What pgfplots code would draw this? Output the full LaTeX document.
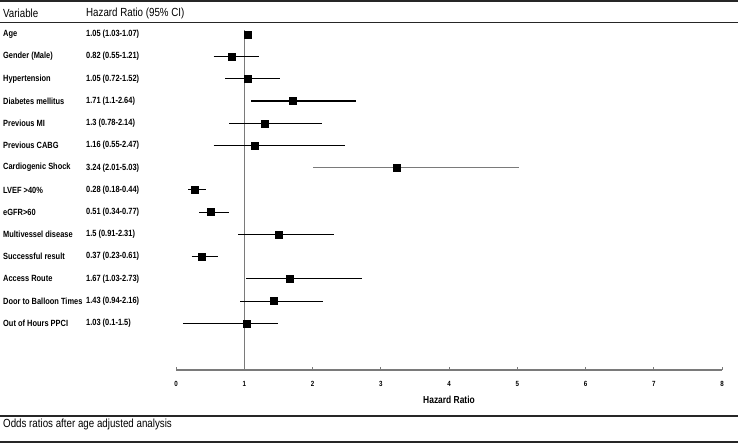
\documentclass[border=0pt]{standalone}
\usepackage{fontspec}
\setmainfont{Liberation Sans}[FakeStretch=0.83]
\usepackage{pgfplots}
\usepackage{pgfplotstable}
\pgfplotsset{compat=1.18}
\definecolor{refgray}{HTML}{7A7A7A}
\pgfplotstableread{
row hr
1 1.05
2 0.82
3 1.05
4 1.71
5 1.3
6 1.16
7 3.24
8 0.28
9 0.51
10 1.5
11 0.37
12 1.67
13 1.43
14 1.03
}\hrdata
\begin{document}
\begin{tikzpicture}
\useasboundingbox (0,0) rectangle (738bp,-443bp);
\begin{axis}[
  at={(176bp,-370bp)}, anchor=south west,
  scale only axis, width=546bp, height=340bp,
  xmin=0, xmax=8, ymin=0.807, ymax=16.10, y dir=reverse,
  axis x line=bottom, axis y line=none,
  axis line style={refgray, line width=1.2bp, -},
  xtick={0,1,...,8}, ytick=\empty,
  tick align=inside, major tick length=3bp,
  tick style={refgray, line width=1bp},
  /pgf/number format/assume math mode=true,
  xticklabel style={font=\fontsize{7.5}{8}\selectfont\bfseries, yshift=-8bp},
  xlabel={Hazard Ratio},
  xlabel style={font=\fontsize{10.2}{11}\selectfont\bfseries, at={(axis description cs:0.5,0)}, anchor=center, yshift=-30bp},
  clip=false,
]
% reference line at HR = 1
\addplot[refgray, line width=1.4bp] coordinates {(1,0.807) (1,16.10)};
% confidence intervals
\addplot[black, line width=1.1bp] coordinates {(1.03,1) (1.07,1)};
\addplot[black, line width=1.1bp] coordinates {(0.55,2) (1.21,2)};
\addplot[black, line width=1.1bp] coordinates {(0.72,3) (1.52,3)};
\addplot[black, line width=1.1bp] coordinates {(1.1,4) (2.64,4)};
\addplot[black, line width=1.1bp] coordinates {(0.78,5) (2.14,5)};
\addplot[black, line width=1.1bp] coordinates {(0.55,6) (2.47,6)};
\addplot[refgray, line width=1.4bp] coordinates {(2.01,7) (5.03,7)};
\addplot[black, line width=1.1bp] coordinates {(0.18,8) (0.44,8)};
\addplot[black, line width=1.1bp] coordinates {(0.34,9) (0.77,9)};
\addplot[black, line width=1.1bp] coordinates {(0.91,10) (2.31,10)};
\addplot[black, line width=1.1bp] coordinates {(0.23,11) (0.61,11)};
\addplot[black, line width=1.1bp] coordinates {(1.03,12) (2.73,12)};
\addplot[black, line width=1.1bp] coordinates {(0.94,13) (2.16,13)};
\addplot[black, line width=1.1bp] coordinates {(0.1,14) (1.5,14)};
% point estimates
\addplot[only marks, mark=square*, mark size=3.5bp, black] table[x=hr, y=row] {\hrdata};
% row labels
\begin{scope}[every node/.style={anchor=west, inner sep=0pt, font=\fontsize{9}{10}\selectfont\bfseries}]
\node at (axis cs:-2.535,1) {Age};
\node at (axis cs:-2.535,2) {Gender (Male)};
\node at (axis cs:-2.535,3) {Hypertension};
\node at (axis cs:-2.535,4) {Diabetes mellitus};
\node at (axis cs:-2.535,5) {Previous MI};
\node at (axis cs:-2.535,6) {Previous CABG};
\node at (axis cs:-2.535,7) {Cardiogenic Shock};
\node at (axis cs:-2.535,8) {LVEF >40\%};
\node at (axis cs:-2.535,9) {eGFR>60};
\node at (axis cs:-2.535,10) {Multivessel disease};
\node at (axis cs:-2.535,11) {Successful result};
\node at (axis cs:-2.535,12) {Access Route};
\node at (axis cs:-2.535,13) {Door to Balloon Times};
\node at (axis cs:-2.535,14) {Out of Hours PPCI};
\node at (axis cs:-1.319,1) {1.05 (1.03-1.07)};
\node at (axis cs:-1.319,2) {0.82 (0.55-1.21)};
\node at (axis cs:-1.319,3) {1.05 (0.72-1.52)};
\node at (axis cs:-1.319,4) {1.71 (1.1-2.64)};
\node at (axis cs:-1.319,5) {1.3 (0.78-2.14)};
\node at (axis cs:-1.319,6) {1.16 (0.55-2.47)};
\node at (axis cs:-1.319,7) {3.24 (2.01-5.03)};
\node at (axis cs:-1.319,8) {0.28 (0.18-0.44)};
\node at (axis cs:-1.319,9) {0.51 (0.34-0.77)};
\node at (axis cs:-1.319,10) {1.5 (0.91-2.31)};
\node at (axis cs:-1.319,11) {0.37 (0.23-0.61)};
\node at (axis cs:-1.319,12) {1.67 (1.03-2.73)};
\node at (axis cs:-1.319,13) {1.43 (0.94-2.16)};
\node at (axis cs:-1.319,14) {1.03 (0.1-1.5)};
\end{scope}
\end{axis}
% header and footer rules
\draw[black!85, line width=2bp] (0,-1bp) -- (738bp,-1bp);
\draw[black!85, line width=1.3bp] (0,-22.7bp) -- (738bp,-22.7bp);
\draw[black!85, line width=2bp] (0,-416bp) -- (738bp,-416bp);
\draw[black!85, line width=2bp] (0,-441.7bp) -- (738bp,-441.7bp);
\node[anchor=west, inner sep=0pt, font=\fontsize{11.8}{13}\selectfont] at (3bp,-13bp) {Variable};
\node[anchor=west, inner sep=0pt, font=\fontsize{11.8}{13}\selectfont] at (86bp,-13bp) {Hazard Ratio (95\% CI)};
\node[anchor=west, inner sep=0pt, font=\fontsize{11.8}{13}\selectfont] at (3bp,-424bp) {Odds ratios after age adjusted analysis};
\end{tikzpicture}
\end{document}
